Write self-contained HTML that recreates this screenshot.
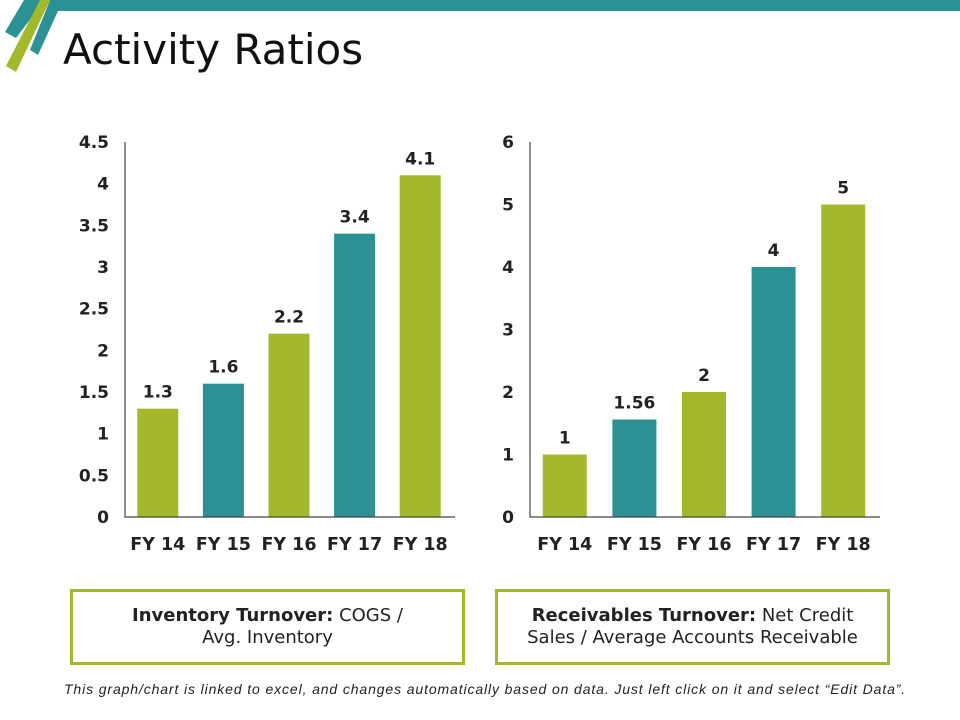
<!DOCTYPE html>
<html><head><meta charset="utf-8"><style>
body{margin:0;width:960px;height:720px;background:#fff;overflow:hidden;position:relative;font-family:"DejaVu Sans","Liberation Sans",sans-serif}
.box{position:absolute;border:3px solid #a3b82a;box-sizing:border-box;display:flex;align-items:center;justify-content:center;text-align:center;font-size:18px;color:#222;line-height:22px}
</style></head><body>
<svg width="960" height="80" style="position:absolute;left:0;top:0">
<polygon points="58,0 960,0 960,11 52,11" fill="#2b9195"/>
<polygon points="24,0 45,0 16,38 5,32" fill="#2b9195"/>
<polygon points="50,0 58,0 58,11 38,55 30,50" fill="#2b9195"/>
<polygon points="40,0 50,0 16,72 6,66" fill="#a3b82a"/>
</svg>
<div style="position:absolute;left:63px;top:25px;font-size:42px;color:#111">Activity Ratios</div>
<svg id="chart" width="960" height="580" style="position:absolute;left:0;top:0"></svg>
<div class="box" style="left:70px;top:589px;width:395px;height:76px"><div><b>Inventory Turnover:</b> COGS /<br>Avg. Inventory</div></div>
<div class="box" style="left:495px;top:589px;width:395px;height:76px"><div><b>Receivables Turnover:</b> Net Credit<br>Sales / Average Accounts Receivable</div></div>
<div style="position:absolute;left:64px;top:681px;font-family:'Liberation Sans',sans-serif;font-style:italic;font-size:14px;letter-spacing:0.88px;color:#222;white-space:nowrap">This graph/chart is linked to excel, and changes automatically based on data. Just left click on it and select “Edit Data”.</div>
<script>
const categories=["FY 14","FY 15","FY 16","FY 17","FY 18"];
const inventoryValues=[1.3,1.6,2.2,3.4,4.1];
const inventoryLabels=["1.3","1.6","2.2","3.4","4.1"];
const inventoryTicks=[0,0.5,1,1.5,2,2.5,3,3.5,4,4.5];
const receivableValues=[1,1.56,2,4,5];
const receivableLabels=["1","1.56","2","4","5"];
const receivableTicks=[0,1,2,3,4,5,6];
const colors=["#a3b82a","#2b9195","#a3b82a","#2b9195","#a3b82a"];
const svg=document.getElementById('chart');
const NS="http://www.w3.org/2000/svg";
function mk(t,a){const e=document.createElementNS(NS,t);for(const k in a)e.setAttribute(k,a[k]);svg.appendChild(e);return e;}
function draw(prefix,x0,x1,yTop,yBase,max,vals,labels,ticks,bw){
  const y=v=>yBase-(v/max)*(yBase-yTop);
  const cw=(x1-x0)/categories.length;
  ticks.forEach(t=>{const e=mk('text',{x:x0-16,y:y(t)+6,'text-anchor':'end','font-size':17,'font-weight':'bold',fill:'#222'});e.textContent=String(t);
    
    });
  vals.forEach((v,i)=>{const cx=x0+cw*(i+0.5);
    const r=mk('rect',{x:cx-bw/2,y:y(v),width:bw,height:yBase-y(v),fill:colors[i]});
    
    
    const l=mk('text',{x:cx,y:y(v)-11,'text-anchor':'middle','font-size':17,'font-weight':'bold',fill:'#222'});l.textContent=labels[i];
    
    
    const c=mk('text',{x:cx,y:yBase+33,'text-anchor':'middle','font-size':17.5,'font-weight':'bold',fill:'#222'});c.textContent=categories[i];
    
    });
  const a=mk('path',{d:`M${x0},${yTop} V${yBase} H${x1+2}`,stroke:'#444','stroke-width':1.2,fill:'none'});
  
  
}
draw('inventory',125,453,142,517,4.5,inventoryValues,inventoryLabels,inventoryTicks,41);
draw('receivables',530,878,142,517,6,receivableValues,receivableLabels,receivableTicks,44);
</script>
</body></html>
